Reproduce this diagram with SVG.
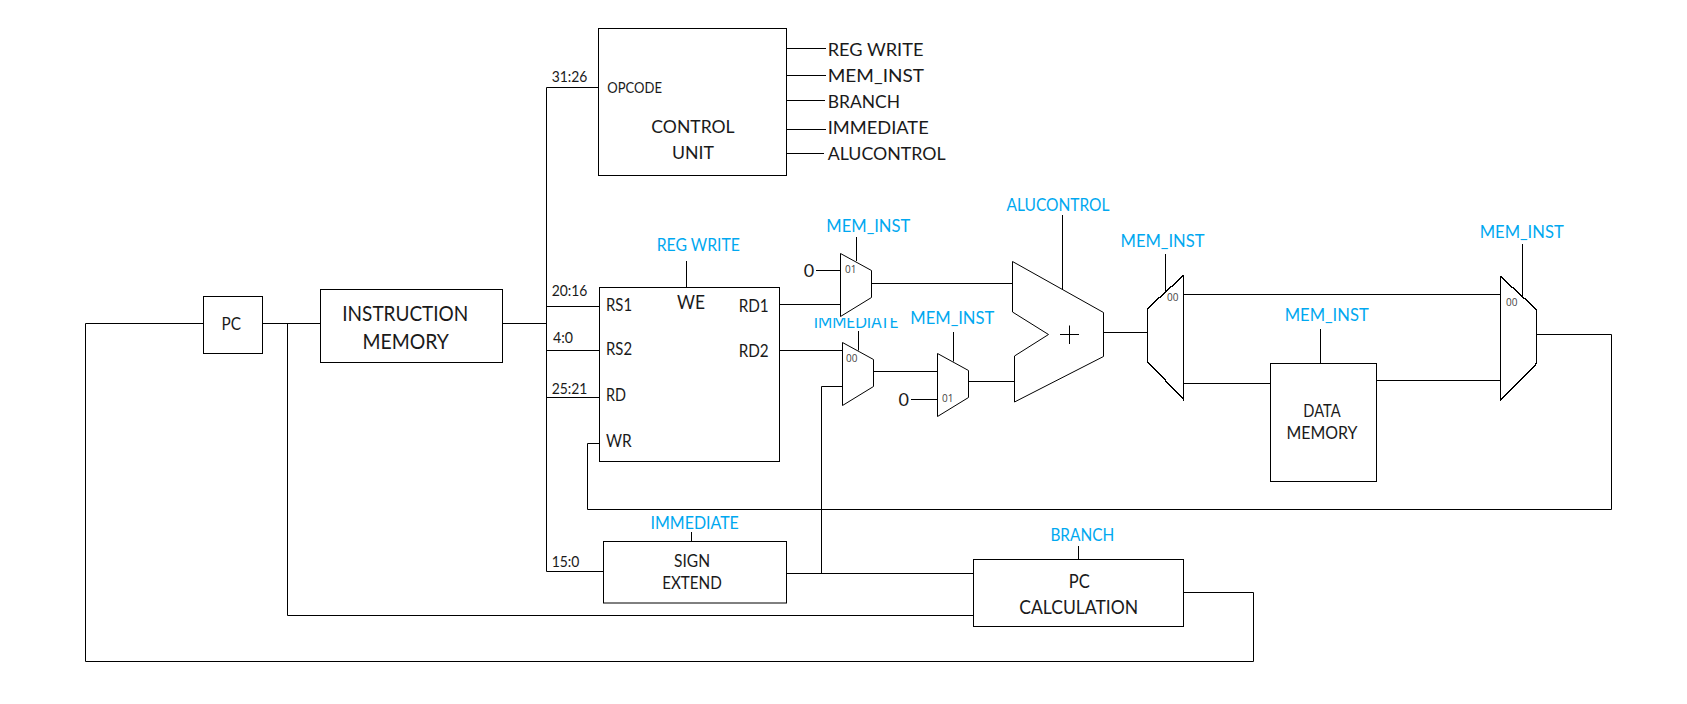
<svg xmlns="http://www.w3.org/2000/svg" width="1687" height="704" viewBox="0 0 1687 704">
<style>
text{font-family:Lato,"Open Sans","Liberation Sans",sans-serif;fill:#1a1a1a}
.s{fill:#fff;stroke:#000;stroke-width:1}
.j{fill:#fff;stroke:#000;stroke-width:1.4;shape-rendering:crispEdges}
.w{fill:none;stroke:#000;stroke-width:1}
.b{fill:#00a8f0;font-size:17px;text-anchor:middle}
.m{text-anchor:middle;font-size:18px}
.p{font-size:16.5px}
.t{font-size:14.5px}
.n{font-family:"Open Sans","Liberation Sans",sans-serif;font-size:10px;fill:#444}
.o{font-size:18px}
</style>
<defs><clipPath id="immClip"><rect x="800" y="318" width="110" height="20"/></clipPath></defs>
<rect width="1687" height="704" fill="#fff"/>
<g id="connectors">
<path class="w" d="M203.5 323.5H85.5V661.5H1253.5V592.5H1183.5"/>
<path class="w" d="M262.5 323.5H320.5"/>
<path class="w" d="M287.5 323.5V615.5H973.5"/>
<path class="w" d="M502.5 323.5H546.5"/>
<path class="w" d="M598.5 87.5H546.5V571.5H603.5"/>
<path class="w" d="M546.5 306.5H599.5M546.5 350.5H602M546.5 397.5H599.5"/>
<path class="w" d="M599.5 443.5H587.5V509.5H1611.5V334.5H1536.5"/>
<path class="w" d="M786.5 48.5H826M786.5 75.5H826M786.5 100.5H825M786.5 129.5H826M786.5 153.5H824"/>
<path class="w" d="M686.5 261V287.5"/>
<path class="w" d="M779.5 304.5H840.5M779.5 350.5H842.5"/>
<path class="w" d="M816 270.5H840.5M856.5 237V261M871.5 283.5H1012.5"/>
<path class="w" d="M858.5 331V350.5M873.5 371.5H937.5"/>
<path class="w" d="M842.5 386.5H821.5V573.5"/>
<path class="w" d="M953.5 332V361.5M911 399.5H937.5M968.5 381.5H1014.5"/>
<path class="w" d="M1062.5 215V289M1103.5 332.5H1147.5"/>
<path class="w" d="M1165.5 254V291M1183.5 294.5H1500.5M1182.5 383.5H1270.5"/>
<path class="w" d="M1320.5 329V363.5M1376.5 380.5H1500.5M1522.5 244V297"/>
<path class="w" d="M691.5 532V541.5M786.5 573.5H973.5M1078.5 546V559.5"/>
</g>
<g id="pc"><rect class="s" x="203.5" y="296.5" width="59" height="57"/><text class="m" style="font-size:17px" x="231.3" y="330.3" textLength="19.5" lengthAdjust="spacingAndGlyphs">PC</text></g>
<g id="instruction-memory"><rect class="s" x="320.5" y="289.5" width="182" height="73"/><text class="m" style="font-size:20.5px" x="405.3" y="320.7" textLength="126" lengthAdjust="spacingAndGlyphs">INSTRUCTION</text><text class="m" style="font-size:20.5px" x="405.7" y="348.7" textLength="86.5" lengthAdjust="spacingAndGlyphs">MEMORY</text></g>
<g id="control-unit"><rect class="s" x="598.5" y="28.5" width="188" height="147"/><text class="t" x="607.3" y="93.3" textLength="54.7" lengthAdjust="spacingAndGlyphs">OPCODE</text><text class="m" x="693" y="133" textLength="83.3" lengthAdjust="spacingAndGlyphs">CONTROL</text><text class="m" x="693" y="158.7" textLength="42" lengthAdjust="spacingAndGlyphs">UNIT</text></g>
<g id="control-outputs"><text class="o" x="827.7" y="56" textLength="95.7" lengthAdjust="spacingAndGlyphs">REG WRITE</text><text class="o" x="827.7" y="82" textLength="96.3" lengthAdjust="spacingAndGlyphs">MEM_INST</text><text class="o" x="827.7" y="108" textLength="72.3" lengthAdjust="spacingAndGlyphs">BRANCH</text><text class="o" x="827.7" y="134" textLength="101" lengthAdjust="spacingAndGlyphs">IMMEDIATE</text><text class="o" x="827.7" y="159.5" textLength="118" lengthAdjust="spacingAndGlyphs">ALUCONTROL</text></g>
<g id="bit-labels"><text class="t" x="551.7" y="82.3" textLength="35.7" lengthAdjust="spacingAndGlyphs">31:26</text><text class="t" x="551.7" y="296.3" textLength="35.7" lengthAdjust="spacingAndGlyphs">20:16</text><text class="t" x="553" y="343.3" textLength="20" lengthAdjust="spacingAndGlyphs">4:0</text><text class="t" x="551.7" y="394" textLength="35.7" lengthAdjust="spacingAndGlyphs">25:21</text><text class="t" x="551.7" y="566.7" textLength="27.7" lengthAdjust="spacingAndGlyphs">15:0</text></g>
<g id="register-file"><rect class="s" x="599.5" y="287.5" width="180" height="174"/><text class="p" x="606" y="310.7" textLength="26" lengthAdjust="spacingAndGlyphs">RS1</text><text class="p" x="606" y="355.3" textLength="26" lengthAdjust="spacingAndGlyphs">RS2</text><text class="p" x="606" y="401.3" textLength="20" lengthAdjust="spacingAndGlyphs">RD</text><text class="p" x="606" y="446.7" textLength="25.7" lengthAdjust="spacingAndGlyphs">WR</text><text class="m" style="font-size:19px" x="691" y="309.3" textLength="28" lengthAdjust="spacingAndGlyphs">WE</text><text class="p" x="738.7" y="312.3" textLength="30" lengthAdjust="spacingAndGlyphs">RD1</text><text class="p" x="738.7" y="357.3" textLength="30" lengthAdjust="spacingAndGlyphs">RD2</text><text class="b" x="698.3" y="251.3" textLength="83.3" lengthAdjust="spacingAndGlyphs">REG WRITE</text></g>
<g id="mux-a"><polygon class="s" points="840.5,253.5 871.5,270.5 871.5,297.5 840.5,316.5"/><text class="n" x="845" y="273">01</text><text class="o" x="809" y="276.7" text-anchor="middle">0</text><text class="b" x="868.3" y="232.3" textLength="84" lengthAdjust="spacingAndGlyphs">MEM_INST</text></g>
<g id="mux-b"><polygon class="s" points="842.5,342.5 873.5,359.5 873.5,386.5 842.5,405.5"/><text class="n" x="846" y="361.7">00</text><text class="b" clip-path="url(#immClip)" x="856" y="328" textLength="84.7" lengthAdjust="spacingAndGlyphs">IMMEDIATE</text></g>
<g id="mux-c"><polygon class="s" points="937.5,353.5 968.5,370.5 968.5,397.5 937.5,416.5"/><text class="n" x="942" y="401.7">01</text><text class="o" x="903.7" y="405.7" text-anchor="middle">0</text><text class="b" x="952.3" y="324.3" textLength="84" lengthAdjust="spacingAndGlyphs">MEM_INST</text></g>
<g id="alu"><polygon class="s" points="1012.5,261.5 1103.5,312.5 1103.5,356.5 1014.5,402 1014.5,356 1048.5,334.5 1012.5,312"/><path class="w" d="M1060 334.5H1079M1069.5 325.5V344"/><text class="b" x="1058" y="211" textLength="103" lengthAdjust="spacingAndGlyphs">ALUCONTROL</text></g>
<g id="mux-d"><polygon class="j" points="1183.5,275.5 1147.5,308.5 1147.5,361.5 1183.5,399.5"/><text class="n" x="1167" y="301.3">00</text><text class="b" x="1162.5" y="247.3" textLength="84" lengthAdjust="spacingAndGlyphs">MEM_INST</text></g>
<g id="data-memory"><rect class="s" x="1270.5" y="363.5" width="106" height="118"/><text class="m" style="font-size:17.5px" x="1322" y="416.7" textLength="37.3" lengthAdjust="spacingAndGlyphs">DATA</text><text class="m" style="font-size:17.5px" x="1322" y="439" textLength="71" lengthAdjust="spacingAndGlyphs">MEMORY</text><text class="b" x="1326.7" y="321" textLength="84" lengthAdjust="spacingAndGlyphs">MEM_INST</text></g>
<g id="mux-e"><polygon class="j" points="1500.5,276.5 1536.5,309.5 1536.5,363.5 1500.5,400.5"/><text class="n" x="1506" y="305.7">00</text><text class="b" x="1521.7" y="238.3" textLength="84" lengthAdjust="spacingAndGlyphs">MEM_INST</text></g>
<g id="sign-extend"><rect class="s" x="603.5" y="541.5" width="183" height="61.5"/><text class="m" style="font-size:16.5px" x="692" y="566.7" textLength="36" lengthAdjust="spacingAndGlyphs">SIGN</text><text class="m" style="font-size:16.5px" x="692" y="589" textLength="59.7" lengthAdjust="spacingAndGlyphs">EXTEND</text><text class="b" x="694.7" y="528.7" textLength="88.3" lengthAdjust="spacingAndGlyphs">IMMEDIATE</text></g>
<g id="pc-calculation"><rect class="s" x="973.5" y="559.5" width="210" height="67"/><text class="m" style="font-size:19px" x="1079.3" y="588.3" textLength="21" lengthAdjust="spacingAndGlyphs">PC</text><text class="m" style="font-size:19px" x="1078.7" y="614.3" textLength="119" lengthAdjust="spacingAndGlyphs">CALCULATION</text><text class="b" x="1082.3" y="541.3" textLength="63.7" lengthAdjust="spacingAndGlyphs">BRANCH</text></g>
</svg>
